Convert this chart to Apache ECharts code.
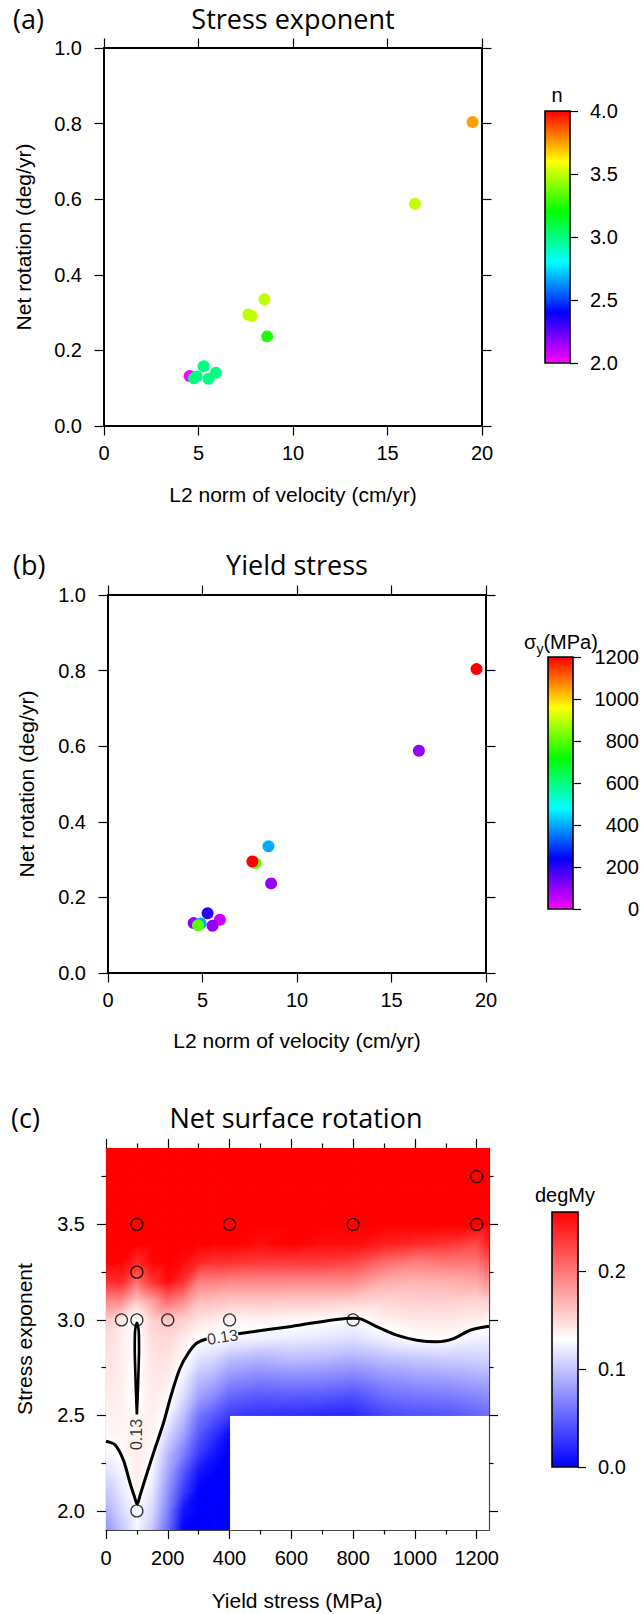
<!DOCTYPE html>
<html>
<head>
<meta charset="utf-8">
<script src="https://cdn.jsdelivr.net/npm/echarts@6/dist/echarts.min.js"></script>
<style>
  html, body { margin: 0; padding: 0; background: #ffffff; }
  #chart { width: 644px; height: 1614px; }
</style>
</head>
<body>
<div id="chart"></div>
<script>
// ---------------- model runs (one entry per run) ----------------
const velocityL2     = [4.53, 4.90, 4.76, 5.27, 5.92, 5.53, 7.80, 7.64, 8.49, 8.63, 16.45, 19.50]; // cm/yr
const netRotation    = [0.132, 0.131, 0.126, 0.158, 0.141, 0.125, 0.291, 0.295, 0.335, 0.237, 0.588, 0.804]; // deg/yr
const stressExponent = [2.0, 3.0, 3.0, 3.0, 3.0, 3.0, 3.5, 3.5, 3.5, 3.25, 3.5, 3.75];
const yieldStress    = [100, 400, 800, 200, 50, 100, 800, 1200, 400, 100, 100, 1200]; // MPa

// ---------------- tick values ----------------
const velocityTicks = [0, 5, 10, 15, 20];
const rotationTicks = [0, 0.2, 0.4, 0.6, 0.8, 1.0];
const nTicks        = [2.0, 2.5, 3.0, 3.5, 4.0];
const yieldTicks    = [0, 200, 400, 600, 800, 1000, 1200];
const yieldMinor    = [100, 300, 500, 700, 900, 1100];
const expTicks      = [2.0, 2.5, 3.0, 3.5];
const expMinor      = [2.25, 2.75, 3.25, 3.75];
const fieldTicks    = [0.0, 0.1, 0.2];

// ---------------- colour scales ----------------
const nRange     = [2, 4];
const yieldRange = [0, 1200];
const fieldRange = [0, 0.26];
const rainbow = ['#ff00ff', '#0000ff', '#00ffff', '#00ff00', '#ffff00', '#ff0000'];
const polar   = ['#0000ff', '#ffffff', '#ff0000'];

// ---------------- gridded net surface rotation (degMy) ----------------
const fieldYield    = [0, 50, 100, 150, 200, 250, 300, 350, 400, 500, 600, 700, 800, 900, 1000, 1100, 1200, 1240];
const fieldExponent = [1.9, 2.0, 2.1, 2.2, 2.3, 2.4, 2.5, 2.6, 2.7, 2.8, 2.9, 3.0, 3.1, 3.2, 3.3, 3.4, 3.5, 3.6, 3.7, 3.8, 3.9];
const fieldRows = [
  /* 1.9 */ [0.075, 0.100, 0.125, 0.100, 0.055, 0.000, 0.000, 0.000, 0.000, null, null, null, null, null, null, null, null, null],
  /* 2.0 */ [0.088, 0.110, 0.128, 0.110, 0.065, 0.010, 0.000, 0.000, 0.000, null, null, null, null, null, null, null, null, null],
  /* 2.1 */ [0.100, 0.118, 0.135, 0.118, 0.075, 0.030, 0.000, 0.000, 0.000, null, null, null, null, null, null, null, null, null],
  /* 2.2 */ [0.113, 0.125, 0.139, 0.125, 0.085, 0.045, 0.010, 0.000, 0.000, null, null, null, null, null, null, null, null, null],
  /* 2.3 */ [0.126, 0.132, 0.140, 0.131, 0.095, 0.065, 0.030, 0.010, 0.000, null, null, null, null, null, null, null, null, null],
  /* 2.4 */ [0.134, 0.135, 0.138, 0.135, 0.110, 0.083, 0.045, 0.025, 0.005, null, null, null, null, null, null, null, null, null],
  /* 2.5 */ [0.137, 0.137, 0.133, 0.138, 0.126, 0.098, 0.060, 0.045, 0.030, 0.025, 0.023, 0.020, 0.020, 0.035, 0.040, 0.043, 0.050, 0.055],
  /* 2.6 */ [0.140, 0.138, 0.128, 0.140, 0.134, 0.113, 0.082, 0.070, 0.052, 0.045, 0.046, 0.045, 0.040, 0.055, 0.060, 0.062, 0.068, 0.072],
  /* 2.7 */ [0.143, 0.139, 0.127, 0.142, 0.140, 0.122, 0.098, 0.090, 0.075, 0.068, 0.071, 0.070, 0.065, 0.075, 0.080, 0.083, 0.088, 0.090],
  /* 2.8 */ [0.146, 0.140, 0.126, 0.144, 0.145, 0.132, 0.115, 0.110, 0.098, 0.092, 0.097, 0.095, 0.090, 0.098, 0.102, 0.105, 0.107, 0.108],
  /* 2.9 */ [0.150, 0.140, 0.126, 0.148, 0.150, 0.140, 0.131, 0.128, 0.126, 0.122, 0.120, 0.117, 0.113, 0.122, 0.130, 0.131, 0.123, 0.122],
  /* 3.0 */ [0.158, 0.141, 0.126, 0.155, 0.159, 0.155, 0.145, 0.140, 0.134, 0.137, 0.134, 0.131, 0.128, 0.137, 0.142, 0.143, 0.138, 0.136],
  /* 3.1 */ [0.190, 0.190, 0.160, 0.180, 0.205, 0.190, 0.165, 0.163, 0.160, 0.160, 0.158, 0.158, 0.155, 0.152, 0.155, 0.155, 0.152, 0.155],
  /* 3.2 */ [0.235, 0.240, 0.205, 0.235, 0.255, 0.235, 0.195, 0.195, 0.190, 0.190, 0.190, 0.190, 0.190, 0.173, 0.168, 0.170, 0.175, 0.185],
  /* 3.3 */ [0.260, 0.258, 0.240, 0.258, 0.260, 0.255, 0.240, 0.235, 0.235, 0.230, 0.230, 0.230, 0.225, 0.205, 0.195, 0.200, 0.200, 0.215],
  /* 3.4 */ [0.260, 0.260, 0.260, 0.260, 0.260, 0.260, 0.260, 0.260, 0.260, 0.255, 0.260, 0.255, 0.255, 0.245, 0.240, 0.235, 0.225, 0.245],
  /* 3.5 */ [0.260, 0.260, 0.260, 0.260, 0.260, 0.260, 0.260, 0.260, 0.260, 0.260, 0.260, 0.260, 0.260, 0.260, 0.260, 0.260, 0.260, 0.260],
  /* 3.6 */ [0.260, 0.260, 0.260, 0.260, 0.260, 0.260, 0.260, 0.260, 0.260, 0.260, 0.260, 0.260, 0.260, 0.260, 0.260, 0.260, 0.260, 0.260],
  /* 3.7 */ [0.260, 0.260, 0.260, 0.260, 0.260, 0.260, 0.260, 0.260, 0.260, 0.260, 0.260, 0.260, 0.260, 0.260, 0.260, 0.260, 0.260, 0.260],
  /* 3.8 */ [0.260, 0.260, 0.260, 0.260, 0.260, 0.260, 0.260, 0.260, 0.260, 0.260, 0.260, 0.260, 0.260, 0.260, 0.260, 0.260, 0.260, 0.260],
  /* 3.9 */ [0.260, 0.260, 0.260, 0.260, 0.260, 0.260, 0.260, 0.260, 0.260, 0.260, 0.260, 0.260, 0.260, 0.260, 0.260, 0.260, 0.260, 0.260]
];

// ---------------- 0.13 isoline of the field ----------------
const contourWest = [[0, 2.365], [29, 2.346], [56, 2.267], [78, 2.145], [92, 2.075], [101, 2.035], [110, 2.08],
                     [126, 2.163], [153, 2.30], [186, 2.46], [213, 2.617], [240, 2.748], [267, 2.827], [294, 2.879], [326, 2.90]];
const contourEast = [[428, 2.928], [600, 2.966], [801, 3.009], [827, 3.004], [876, 2.965], [941, 2.92], [1006, 2.894],
                     [1071, 2.885], [1125, 2.902], [1179, 2.946], [1240, 2.967]];
const contourLoop = [[100, 2.505], [97.5, 2.6], [95, 2.72], [93, 2.85], [94, 2.94], [100, 2.985], [106, 2.94],
                     [107, 2.85], [105, 2.72], [102.5, 2.6], [100, 2.505]];
const contourLabelAt = [[100, 2.40], [377, 2.91]];
const contourLevel = '0.13';

// ---------------- helpers ----------------
const tickFont  = "'Liberation Sans', Arial, Helvetica, sans-serif";
const titleFont = "'Open Sans', 'Noto Sans', sans-serif";

function hexToRgb(h) {
  return [parseInt(h.slice(1, 3), 16), parseInt(h.slice(3, 5), 16), parseInt(h.slice(5, 7), 16)];
}
const polarRgb = polar.map(hexToRgb);
function polarColor(v) {
  const t = Math.min(1, Math.max(0, (v - fieldRange[0]) / (fieldRange[1] - fieldRange[0])));
  const seg = t <= 0.5 ? 0 : 1;
  const k = seg === 0 ? t / 0.5 : (t - 0.5) / 0.5;
  const a = polarRgb[seg], b = polarRgb[seg + 1];
  const c = a.map((x, i) => Math.round(x + (b[i] - x) * k));
  return 'rgb(' + c.join(',') + ')';
}

// one linearly shaded triangle of the field
function shadedTriangle(p, v) {
  const [x0, y0] = p[0], [x1, y1] = p[1], [x2, y2] = p[2];
  const dx1 = x1 - x0, dy1 = y1 - y0, dx2 = x2 - x0, dy2 = y2 - y0;
  const det = dx1 * dy2 - dy1 * dx2;
  const dv1 = v[1] - v[0], dv2 = v[2] - v[0];
  const vmin = Math.min(v[0], v[1], v[2]), vmax = Math.max(v[0], v[1], v[2]);
  let fill;
  if (Math.abs(det) < 1e-9 || vmax - vmin < 1e-7) {
    fill = polarColor(v[0]);
  } else {
    const a = (dv1 * dy2 - dy1 * dv2) / det;
    const b = (dx1 * dv2 - dv1 * dx2) / det;
    const g2 = a * a + b * b;
    const sx = x0 + (vmin - v[0]) * a / g2, sy = y0 + (vmin - v[0]) * b / g2;
    const ex = x0 + (vmax - v[0]) * a / g2, ey = y0 + (vmax - v[0]) * b / g2;
    const mid = (fieldRange[0] + fieldRange[1]) / 2;
    const stops = [{ offset: 0, color: polarColor(vmin) }];
    if (vmin < mid && vmax > mid) stops.push({ offset: (mid - vmin) / (vmax - vmin), color: polarColor(mid) });
    stops.push({ offset: 1, color: polarColor(vmax) });
    fill = new echarts.graphic.LinearGradient(sx, sy, ex, ey, stops, true);
  }
  return { type: 'polygon', shape: { points: p }, style: { fill: fill, stroke: fill, lineWidth: 1 } };
}

// cells of the field grid that have data on all four corners
const fieldCells = [];
for (let j = 0; j < fieldExponent.length - 1; j++) {
  for (let i = 0; i < fieldYield.length - 1; i++) {
    const c = [fieldRows[j][i], fieldRows[j][i + 1], fieldRows[j + 1][i], fieldRows[j + 1][i + 1]];
    if (c.some(v => v === null)) continue;
    fieldCells.push([fieldYield[i], fieldYield[i + 1], fieldExponent[j], fieldExponent[j + 1]].concat(c));
  }
}

function valueAxis(gridIndex, position, min, max, ticks, o) {
  o = o || {};
  const label = { show: !!o.labels, customValues: ticks, margin: o.margin || 8, fontSize: o.fontSize || 20,
                  fontFamily: tickFont, color: '#000', formatter: o.fmt || ((v) => String(v)) };
  if (o.align) label.align = o.align;
  return {
    type: 'value', gridIndex: gridIndex, position: position, min: min, max: max,
    axisLine: { show: o.line !== false, onZero: false, lineStyle: { color: o.lineColor || '#000', width: o.lineWidth || 2 } },
    axisTick: { show: true, inside: false, length: o.tickLen || 9, customValues: ticks,
                lineStyle: { color: '#000', width: 1.2 } },
    axisLabel: label,
    splitLine: { show: false }, splitArea: { show: false }
  };
}
const hiddenAxis = (g) => ({ type: 'value', gridIndex: g, min: 0, max: 1, show: false });
const fix1 = (v) => v.toFixed(1);

function colorbar(xi, yi, range, colors) {
  return {
    type: 'custom', xAxisIndex: xi, yAxisIndex: yi, silent: true, z: 3,
    data: [[0, range[0], 1, range[1]]],
    encode: { x: [0, 2], y: [1, 3] },
    renderItem: function (params, api) {
      const tl = api.coord([api.value(0), api.value(3)]);
      const br = api.coord([api.value(2), api.value(1)]);
      const n = colors.length - 1;
      const stops = colors.map((c, k) => ({ offset: 1 - k / n, color: c })).reverse();
      return {
        type: 'rect',
        shape: { x: tl[0], y: tl[1], width: br[0] - tl[0], height: br[1] - tl[1] },
        style: { fill: new echarts.graphic.LinearGradient(0, 0, 0, 1, stops), stroke: '#000', lineWidth: 1.6 }
      };
    }
  };
}

function text(str, x, y, size, family, o) {
  o = o || {};
  const align = o.align || 'center';
  const st = { text: str, fontSize: size, fontFamily: family, fill: '#000',
               textAlign: align, align: align, textVerticalAlign: 'middle', verticalAlign: 'middle' };
  if (o.rich) st.rich = o.rich;
  return { type: 'text', x: x, y: y, rotation: o.rot || 0, silent: true, style: st };
}

const runs = velocityL2.map((v, i) => [v, netRotation[i], stressExponent[i], yieldStress[i]]);
const runSites = yieldStress.map((s, i) => [s, stressExponent[i]]);
const labelTurns = [90, 9];

const chart = echarts.init(document.getElementById('chart'), null, { renderer: 'svg', width: 644, height: 1614 });

chart.setOption({
  backgroundColor: '#ffffff',
  animation: false,
  grid: [
    { left: 104, top: 48,   width: 378, height: 378 },   // (a)
    { left: 545, top: 111,  width: 25,  height: 252 },   // (a) colour bar
    { left: 108, top: 595,  width: 378, height: 378 },   // (b)
    { left: 548, top: 657,  width: 25,  height: 252 },   // (b) colour bar
    { left: 106, top: 1148, width: 383, height: 382 },   // (c)
    { left: 552, top: 1212, width: 26,  height: 255 }    // (c) colour bar
  ],
  xAxis: [
    valueAxis(0, 'bottom', 0, 20, velocityTicks, { labels: true, margin: 17, tickLen: 9.5 }),
    valueAxis(0, 'top', 0, 20, velocityTicks, { tickLen: 9.5 }),
    hiddenAxis(1),
    valueAxis(2, 'bottom', 0, 20, velocityTicks, { labels: true, margin: 17, tickLen: 9.5 }),
    valueAxis(2, 'top', 0, 20, velocityTicks, { tickLen: 9.5 }),
    hiddenAxis(3),
    valueAxis(4, 'bottom', 0, 1240, yieldTicks, { labels: true, margin: 18, lineColor: '#444', lineWidth: 1.2 }),
    valueAxis(4, 'bottom', 0, 1240, yieldMinor, { line: false, tickLen: 4.5 }),
    valueAxis(4, 'top', 0, 1240, yieldTicks, { lineColor: '#444', lineWidth: 1.2 }),
    valueAxis(4, 'top', 0, 1240, yieldMinor, { line: false, tickLen: 4.5 }),
    hiddenAxis(5)
  ],
  yAxis: [
    valueAxis(0, 'left', 0, 1, rotationTicks, { labels: true, margin: 22, fmt: fix1, tickLen: 9.5 }),
    valueAxis(0, 'right', 0, 1, rotationTicks, { tickLen: 9.5 }),
    valueAxis(1, 'right', nRange[0], nRange[1], nTicks, { labels: true, margin: 20, fmt: fix1, tickLen: 8, line: false }),
    valueAxis(2, 'left', 0, 1, rotationTicks, { labels: true, margin: 22, fmt: fix1, tickLen: 9.5 }),
    valueAxis(2, 'right', 0, 1, rotationTicks, { tickLen: 9.5 }),
    valueAxis(3, 'right', yieldRange[0], yieldRange[1], yieldTicks, { labels: true, margin: 66, align: 'right', tickLen: 8, line: false }),
    valueAxis(4, 'left', 1.9, 3.9, expTicks, { labels: true, margin: 21, fmt: fix1, lineColor: '#444', lineWidth: 1.2 }),
    valueAxis(4, 'left', 1.9, 3.9, expMinor, { line: false, tickLen: 4.5 }),
    valueAxis(4, 'right', 1.9, 3.9, expTicks, { lineColor: '#444', lineWidth: 1.2 }),
    valueAxis(4, 'right', 1.9, 3.9, expMinor, { line: false, tickLen: 4.5 }),
    valueAxis(5, 'right', fieldRange[0], fieldRange[1], fieldTicks, { labels: true, margin: 20, fmt: fix1, tickLen: 8, line: false })
  ],
  visualMap: [
    { type: 'continuous', show: false, seriesIndex: 0, dimension: 2, min: nRange[0], max: nRange[1], inRange: { color: rainbow } },
    { type: 'continuous', show: false, seriesIndex: 2, dimension: 3, min: yieldRange[0], max: yieldRange[1], inRange: { color: rainbow } }
  ],
  series: [
    // (a) coloured by stress exponent
    { type: 'scatter', xAxisIndex: 0, yAxisIndex: 0, data: runs, symbol: 'circle', symbolSize: 12,
      encode: { x: 0, y: 1 }, itemStyle: { opacity: 1 }, z: 4 },
    colorbar(2, 2, nRange, rainbow),
    // (b) coloured by yield stress
    { type: 'scatter', xAxisIndex: 3, yAxisIndex: 3, data: runs, symbol: 'circle', symbolSize: 12,
      encode: { x: 0, y: 1 }, itemStyle: { opacity: 1 }, z: 4 },
    colorbar(5, 5, yieldRange, rainbow),
    // (c) shaded field
    { type: 'custom', xAxisIndex: 6, yAxisIndex: 6, silent: true, clip: true, z: 2,
      data: fieldCells, encode: { x: [0, 1], y: [2, 3] },
      renderItem: function (params, api) {
        const xa = api.value(0), xb = api.value(1), ya = api.value(2), yb = api.value(3);
        const v00 = api.value(4), v10 = api.value(5), v01 = api.value(6), v11 = api.value(7);
        const p00 = api.coord([xa, ya]), p10 = api.coord([xb, ya]);
        const p01 = api.coord([xa, yb]), p11 = api.coord([xb, yb]);
        return { type: 'group', children: [
          shadedTriangle([p00, p10, p11], [v00, v10, v11]),
          shadedTriangle([p00, p11, p01], [v00, v11, v01])
        ] };
      } },
    // 0.13 isoline
    { type: 'line', xAxisIndex: 6, yAxisIndex: 6, data: contourWest, smooth: 0.3, symbol: 'none', silent: true,
      lineStyle: { color: '#000', width: 3 }, z: 5 },
    { type: 'line', xAxisIndex: 6, yAxisIndex: 6, data: contourEast, smooth: 0.3, symbol: 'none', silent: true,
      lineStyle: { color: '#000', width: 3 }, z: 5 },
    { type: 'line', xAxisIndex: 6, yAxisIndex: 6, data: contourLoop, smooth: 0.3, symbol: 'none', silent: true,
      lineStyle: { color: '#000', width: 2.6 }, z: 5 },
    { type: 'scatter', xAxisIndex: 6, yAxisIndex: 6, silent: true, symbolSize: 0.1, z: 6,
      itemStyle: { color: 'rgba(0,0,0,0)' },
      data: contourLabelAt.map((p, k) => ({ value: p, label: { rotate: labelTurns[k] } })),
      label: { show: true, position: 'inside', formatter: contourLevel, fontSize: 16,
               fontFamily: tickFont, color: '#000' } },
    // run locations
    { type: 'scatter', xAxisIndex: 6, yAxisIndex: 6, data: runSites, symbol: 'circle', symbolSize: 12, silent: true, z: 7,
      itemStyle: { color: 'rgba(0,0,0,0)', borderColor: '#000', borderWidth: 1.3 } },
    colorbar(10, 10, fieldRange, polar)
  ],
  graphic: [
    text('(a)', 13, 18, 27, titleFont, { align: 'left' }),
    text('Stress exponent', 293, 18, 27, titleFont),
    text('L2 norm of velocity (cm/yr)', 293, 494, 21, tickFont),
    text('Net rotation (deg/yr)', 23, 237, 21, tickFont, { rot: Math.PI / 2 }),
    text('n', 557, 95, 20, tickFont),

    text('(b)', 13, 564, 27, titleFont, { align: 'left' }),
    text('Yield stress', 297, 564, 27, titleFont),
    text('L2 norm of velocity (cm/yr)', 297, 1040, 21, tickFont),
    text('Net rotation (deg/yr)', 26, 784, 21, tickFont, { rot: Math.PI / 2 }),
    text('{m|σ}{s|y}{m|(MPa)}', 561, 642, 20, tickFont, { rich: {
      m: { fontSize: 20, fontFamily: tickFont, lineHeight: 28, verticalAlign: 'middle' },
      s: { fontSize: 14, fontFamily: tickFont, lineHeight: 14, verticalAlign: 'bottom' } } }),

    text('(c)', 11, 1117, 27, titleFont, { align: 'left' }),
    text('Net surface rotation', 296, 1117, 27, titleFont),
    text('Yield stress (MPa)', 297, 1600, 21, tickFont),
    text('Stress exponent', 24, 1339, 21, tickFont, { rot: Math.PI / 2 }),
    text('degMy', 565, 1195, 20, tickFont)
  ]
});
</script>
</body>
</html>
